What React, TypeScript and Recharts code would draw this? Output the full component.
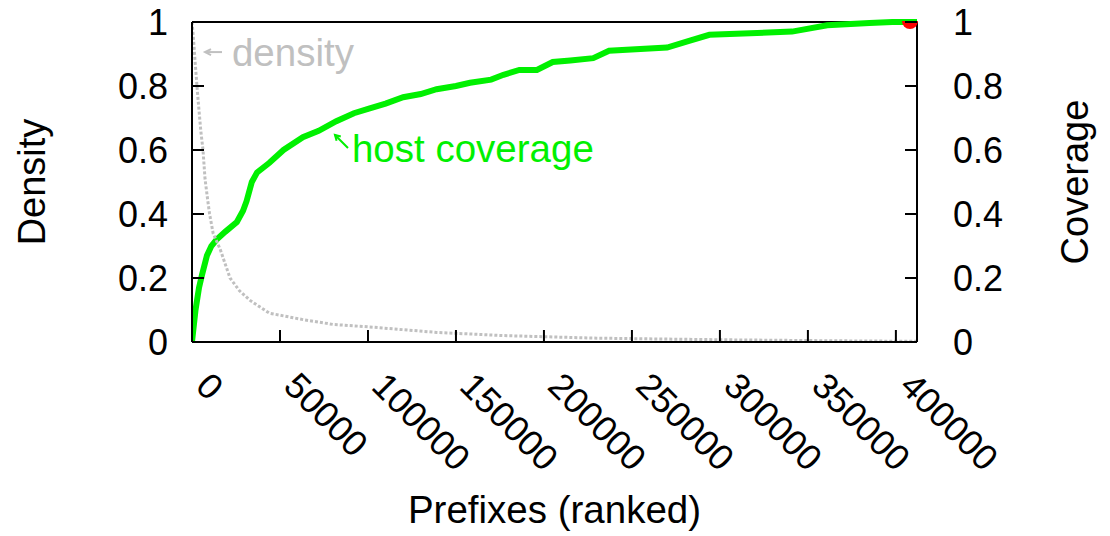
import { LineChart, Line, XAxis, YAxis, ReferenceLine, ReferenceDot, Label } from 'recharts';

// ranked prefixes vs cumulative host coverage
const coverageX = [0, 2000, 4000, 5700, 8500, 11000, 14000, 19000, 25500, 29000, 31000, 34000, 37000, 44000, 52000, 63000, 72000, 82000, 92000, 101000, 110000, 120000, 130000, 139000, 150000, 158000, 170000, 177000, 186000, 196000, 205000, 215000, 228000, 237000, 270000, 282000, 294000, 341000, 361000, 385000, 398000, 412000];
const coverageY = [0, 0.1, 0.17, 0.21, 0.27, 0.3, 0.32, 0.345, 0.375, 0.41, 0.44, 0.5, 0.53, 0.56, 0.6, 0.64, 0.66, 0.69, 0.715, 0.73, 0.745, 0.765, 0.775, 0.79, 0.8, 0.81, 0.82, 0.835, 0.85, 0.85, 0.875, 0.88, 0.887, 0.91, 0.92, 0.94, 0.96, 0.97, 0.99, 0.997, 1, 1];

// per-prefix density
const densityX = [0, 800, 1700, 3400, 5000, 6250, 7400, 9000, 10000, 12000, 16000, 21600, 27000, 33000, 44000, 63000, 80000, 101000, 139000, 177000, 230000, 300000, 360000, 412000];
const densityY = [1, 0.95, 0.88, 0.76, 0.66, 0.6, 0.51, 0.44, 0.4, 0.34, 0.29, 0.2, 0.16, 0.13, 0.09, 0.07, 0.055, 0.047, 0.03, 0.02, 0.012, 0.007, 0.004, 0.002];

const xTicks = [0, 50000, 100000, 150000, 200000, 250000, 300000, 350000, 400000];
const yTicks = [0, 0.2, 0.4, 0.6, 0.8, 1];
const yTickLabels = ['0', '0.2', '0.4', '0.6', '0.8', '1'];

const endPoint = { x: 408000, y: 1 };
const densityNote = { x: 22700, y: 0.8625, arrowX: 7400, arrowY: 0.906 };
const coverageNote = { x: 90900, y: 0.5625, arrowX: 81250, arrowY: 0.647 };

const coverageData = coverageX.map((x, i) => ({ x, cov: coverageY[i] }));
const densityData = densityX.map((x, i) => ({ x, dens: densityY[i] }));

const FONT = '"Liberation Sans", Arial, sans-serif';
const GREEN = '#00f000';
const GREY = '#c0c0c0';

function XTick(props: any) {
  const { x, y, payload } = props;
  const tx = x + 2;
  const ty = y + 46;
  return (
    <g>
      <line x1={x} y1={y} x2={x} y2={y - 12} stroke="#000" strokeWidth={2} />
      <text x={tx} y={ty} transform={`rotate(45 ${tx} ${ty})`} fontSize={36} fill="#000" textAnchor="start">
        {payload.value}
      </text>
    </g>
  );
}

function LeftTick(props: any) {
  const { x, y, payload } = props;
  return (
    <g>
      <line x1={x} y1={y} x2={x + 12} y2={y} stroke="#000" strokeWidth={2} />
      <text x={x - 24} y={y} dy="0.36em" fontSize={36} fill="#000" textAnchor="end">
        {yTickLabels[yTicks.indexOf(payload.value)]}
      </text>
    </g>
  );
}

function RightTick(props: any) {
  const { x, y, payload } = props;
  return (
    <g>
      <line x1={x} y1={y} x2={x - 12} y2={y} stroke="#000" strokeWidth={2} />
      <text x={x + 36} y={y} dy="0.36em" fontSize={36} fill="#000" textAnchor="start">
        {yTickLabels[yTicks.indexOf(payload.value)]}
      </text>
    </g>
  );
}

export default function App() {
  return (
    <div style={{ position: 'absolute', left: 0, top: 0 }}>
      <LineChart
        width={1110}
        height={536}
        margin={{ top: 22, right: 0, bottom: 0, left: 0 }}
        style={{ fontFamily: FONT }}
      >
        <XAxis
          dataKey="x"
          type="number"
          domain={[0, 412000]}
          ticks={xTicks}
          allowDataOverflow
          height={194}
          tickSize={0}
          tickMargin={0}
          tickLine={false}
          tick={<XTick />}
          axisLine={{ stroke: '#000', strokeWidth: 2 }}
        >
          <Label
            content={(p: any) => (
              <text
                x={p.viewBox.x + p.viewBox.width / 2}
                y={p.viewBox.y + 181}
                textAnchor="middle"
                fontSize={38.5}
                fill="#000"
              >
                Prefixes (ranked)
              </text>
            )}
          />
        </XAxis>
        <YAxis
          yAxisId="density"
          orientation="left"
          domain={[0, 1]}
          ticks={yTicks}
          width={192}
          tickSize={0}
          tickMargin={0}
          tickLine={false}
          tick={<LeftTick />}
          axisLine={{ stroke: '#000', strokeWidth: 2 }}
        >
          <Label
            content={(p: any) => {
              const cx = p.viewBox.x + 45;
              const cy = p.viewBox.y + p.viewBox.height / 2;
              return (
                <text x={cx} y={cy} transform={`rotate(-90 ${cx} ${cy})`} textAnchor="middle" fontSize={38} fill="#000">
                  Density
                </text>
              );
            }}
          />
        </YAxis>
        <YAxis
          yAxisId="coverage"
          orientation="right"
          domain={[0, 1]}
          ticks={yTicks}
          width={193}
          tickSize={0}
          tickMargin={0}
          tickLine={false}
          tick={<RightTick />}
          axisLine={{ stroke: '#000', strokeWidth: 2 }}
        >
          <Label
            content={(p: any) => {
              const cx = p.viewBox.x + 171;
              const cy = p.viewBox.y + p.viewBox.height / 2;
              return (
                <text x={cx} y={cy} transform={`rotate(-90 ${cx} ${cy})`} textAnchor="middle" fontSize={38} fill="#000">
                  Coverage
                </text>
              );
            }}
          />
        </YAxis>

        <ReferenceLine yAxisId="density" y={1} stroke="#000" strokeWidth={2} />

        <Line
          yAxisId="coverage"
          data={coverageData}
          dataKey="cov"
          type="linear"
          stroke={GREEN}
          strokeWidth={6}
          dot={false}
          isAnimationActive={false}
        />
        <Line
          yAxisId="density"
          data={densityData}
          dataKey="dens"
          type="linear"
          stroke={GREY}
          strokeWidth={3}
          strokeDasharray="3 2"
          dot={false}
          isAnimationActive={false}
        />

        <ReferenceDot
          yAxisId="coverage"
          x={endPoint.x}
          y={endPoint.y}
          r={8}
          shape={(p: any) => (
            <path
              d={`M ${p.cx - 8} ${p.cy - 1} A 8 8 0 0 0 ${p.cx + 8} ${p.cy - 1} Z`}
              fill="#ff0000"
            />
          )}
        />

        <ReferenceDot
          yAxisId="density"
          x={densityNote.arrowX}
          y={densityNote.arrowY}
          r={1}
          shape={(p: any) => (
            <g stroke={GREY} strokeWidth={2} fill="none">
              <line x1={p.cx} y1={p.cy} x2={p.cx + 17} y2={p.cy} />
              <polyline points={`${p.cx + 6},${p.cy - 3} ${p.cx},${p.cy} ${p.cx + 6},${p.cy + 3}`} />
            </g>
          )}
        />
        <ReferenceDot
          yAxisId="density"
          x={densityNote.x}
          y={densityNote.y}
          r={1}
          shape={(p: any) => (
            <text x={p.cx} y={p.cy} fontSize={38.5} fill={GREY}>
              density
            </text>
          )}
        />
        <ReferenceDot
          yAxisId="coverage"
          x={coverageNote.arrowX}
          y={coverageNote.arrowY}
          r={1}
          shape={(p: any) => (
            <g stroke={GREEN} strokeWidth={2} fill="none">
              <line x1={p.cx} y1={p.cy} x2={p.cx + 13} y2={p.cy + 13} />
              <polyline points={`${p.cx + 1.6},${p.cy + 5.8} ${p.cx},${p.cy} ${p.cx + 5.8},${p.cy + 1.6}`} />
            </g>
          )}
        />
        <ReferenceDot
          yAxisId="coverage"
          x={coverageNote.x}
          y={coverageNote.y}
          r={1}
          shape={(p: any) => (
            <text x={p.cx} y={p.cy} fontSize={38.5} fill={GREEN}>
              host coverage
            </text>
          )}
        />
      </LineChart>
    </div>
  );
}
